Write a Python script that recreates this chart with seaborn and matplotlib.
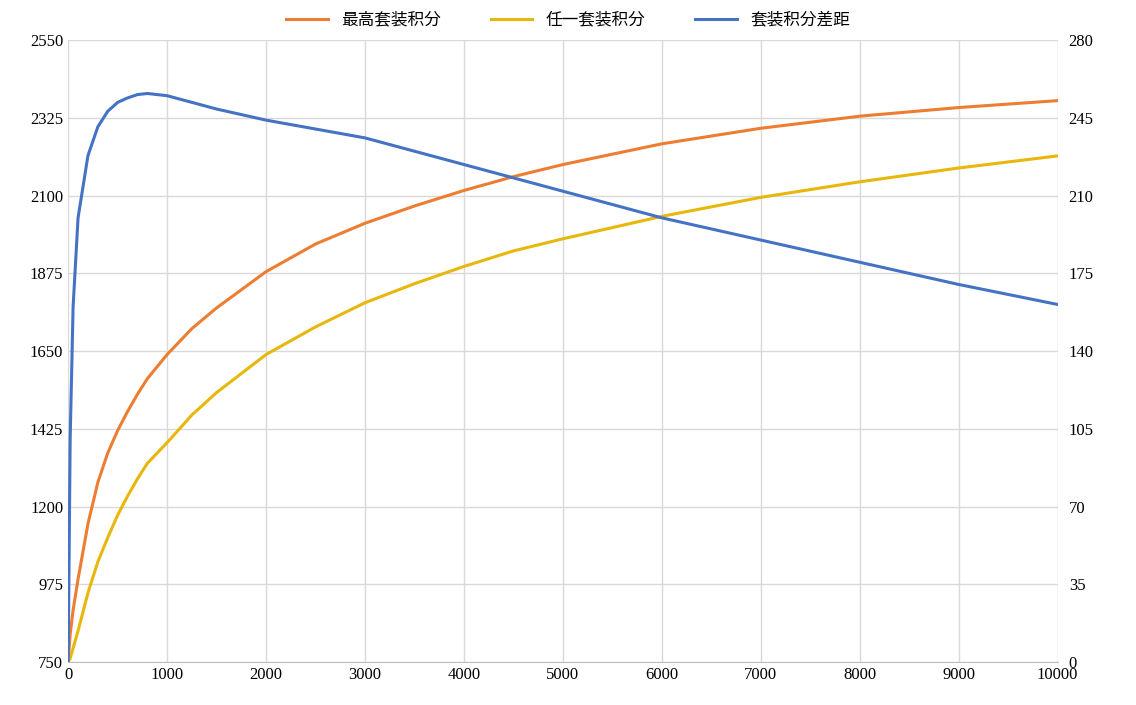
import numpy as np
import pandas as pd
import matplotlib
matplotlib.use("Agg")
import matplotlib.pyplot as plt
from matplotlib import font_manager
import seaborn as sns

x = [0, 20, 50, 100, 200, 300, 400, 500, 600, 700, 800, 1000, 1250, 1500, 2000, 2500, 3000,
     3500, 4000, 4500, 5000, 6000, 7000, 8000, 9000, 10000]
top_set = [750, 830, 900, 990, 1150, 1270, 1355, 1420, 1475, 1525, 1570, 1640, 1715, 1775,
           1880, 1960, 2020, 2070, 2115, 2155, 2190, 2250, 2295, 2330, 2355, 2375]
any_set = [750, 760, 790, 840, 950, 1040, 1110, 1175, 1230, 1280, 1325, 1385, 1465, 1530,
           1640, 1720, 1790, 1845, 1895, 1940, 1975, 2040, 2095, 2140, 2180, 2215]
gap = [0, 100, 160, 200, 228, 241, 248, 252, 254, 255.5, 256, 255, 252, 249,
       244, 240, 236, 230, 224, 218, 212, 200, 190, 180, 170, 161]

labels = ["最高套装积分", "任一套装积分", "套装积分差距"]
colors = ["#ED7D31", "#E8B70C", "#4472C4"]

df = pd.DataFrame({"x": x, "top": top_set, "any": any_set, "gap": gap})

# find a CJK font file directly
cjk = None
for f in font_manager.findSystemFonts():
    if "NotoSansCJK" in f.replace(" ", "") or "NotoSansSC" in f:
        cjk = f
        if "Regular" in f:
            break
if cjk:
    cjk_prop = font_manager.FontProperties(fname=cjk, size=12)
else:
    cjk_prop = font_manager.FontProperties(family="Noto Sans CJK SC", size=12)

plt.rcParams["font.family"] = ["Liberation Serif"]
fig, ax = plt.subplots(figsize=(11.36, 7.05), dpi=100)
fig.subplots_adjust(left=0.06, right=0.931, top=0.943, bottom=0.061)
ax2 = ax.twinx()

sns.lineplot(data=df, x="x", y="top", ax=ax, color=colors[0], lw=2.2, legend=False)
sns.lineplot(data=df, x="x", y="any", ax=ax, color=colors[1], lw=2.2, legend=False)
sns.lineplot(data=df, x="x", y="gap", ax=ax2, color=colors[2], lw=2.2, legend=False)

ax.set_xlim(0, 10000)
ax.set_ylim(750, 2550)
ax2.set_ylim(0, 280)
ax.set_xticks(range(0, 10001, 1000))
ax.set_yticks(range(750, 2551, 225))
ax2.set_yticks(range(0, 281, 35))
ax.grid(True, color="#D9D9D9", lw=1)
ax.set_axisbelow(True)
for a in (ax, ax2):
    a.set_xlabel("")
    a.set_ylabel("")
    a.tick_params(length=0, labelsize=12, colors="#000000")
    for s in a.spines.values():
        s.set_visible(False)
ax2.tick_params(axis="y", pad=8)
ax.spines["bottom"].set_visible(True)
ax.spines["bottom"].set_color("#BFBFBF")

handles = ax.get_lines()[:2] + ax2.get_lines()[:1]
fig.legend(handles, labels, loc="upper center", ncol=3, frameon=False,
           bbox_to_anchor=(0.5, 1.005), prop=cjk_prop,
           columnspacing=3, handlelength=2.5)

fig.savefig("out.png", dpi=100)
